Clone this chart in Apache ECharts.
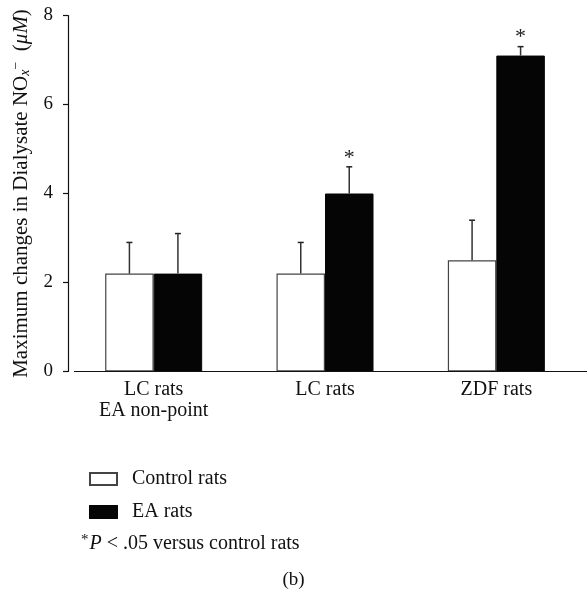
<!DOCTYPE html>
<html><head><meta charset="utf-8">
<script src="https://cdn.jsdelivr.net/npm/echarts@6/dist/echarts.min.js"></script>
<style>html,body{margin:0;padding:0;background:#fff}#c{width:587px;height:595px}</style>
</head><body><div id="c"></div>
<script>
const categories = ['LC rats\nEA non-point', 'LC rats', 'ZDF rats'];
const controlValues = [2.2, 2.2, 2.5];
const controlErrors = [0.7, 0.7, 0.9];
const eaValues = [2.2, 4.0, 7.1];
const eaErrors = [0.9, 0.6, 0.2];
const eaSignificant = [false, true, true];
const seriesNames = ['Control rats', 'EA rats'];
const yMin = 0, yMax = 8, yInterval = 2;

const FONT = '"Liberation Serif", "DejaVu Serif", serif';
const BAR_W = 48.5;
const chart = echarts.init(document.getElementById('c'), null, {renderer: 'canvas'});

function errorSeries(values, errors, side, sig) {
  const data = values.map((v, i) => [i, v, errors[i], sig ? (sig[i] ? 1 : 0) : 0]);
  return {
    type: 'custom',
    silent: true,
    z: 5,
    data: data,
    encode: {x: 0, y: 1},
    renderItem: function (params, api) {
      const i = api.value(0), v = api.value(1), e = api.value(2), s = api.value(3);
      const base = api.coord([i, v]);
      const top = api.coord([i, v + e]);
      const x = base[0] + side * BAR_W / 2;
      const children = [
        {type: 'line', shape: {x1: x, y1: base[1], x2: x, y2: top[1]}, style: {stroke: '#333', lineWidth: 1.5}},
        {type: 'line', shape: {x1: x - 3, y1: top[1], x2: x + 3, y2: top[1]}, style: {stroke: '#222', lineWidth: 1.5}}
      ];
      if (s) {
        children.push({type: 'text', x: x, y: top[1] + 2, style: {text: '*', font: '22px ' + FONT, fill: '#222', align: 'center', verticalAlign: 'bottom'}});
      }
      return {type: 'group', children: children};
    }
  };
}

const option = {
  animation: false,
  backgroundColor: '#fff',
  grid: {left: 68, right: 5, top: 15.5, bottom: 223.5, containLabel: false},
  xAxis: {
    type: 'category',
    data: categories,
    axisLine: {show: false},
    axisTick: {show: false},
    axisLabel: {fontFamily: FONT, fontSize: 20, color: '#111', margin: 8, lineHeight: 21}
  },
  yAxis: {
    type: 'value', min: yMin, max: yMax, interval: yInterval,
    axisLine: {show: true, lineStyle: {color: '#111', width: 1.2}},
    axisTick: {show: true, length: 5, lineStyle: {color: '#111', width: 1.2}},
    splitLine: {show: false},
    axisLabel: {fontFamily: FONT, fontSize: 19, color: '#111', margin: 15},
    name: '{n|Maximum changes in Dialysate NO}{sub|x}{sup|−}{n|  (}{i|μM}{n|)}',
    nameLocation: 'middle',
    nameRotate: 90,
    nameGap: 31,
    nameTextStyle: {
      fontFamily: FONT, fontSize: 21, color: '#111',
      rich: {
        n: {fontFamily: FONT, fontSize: 21, color: '#111'},
        i: {fontFamily: FONT, fontSize: 21, color: '#111', fontStyle: 'italic'},
        sub: {fontFamily: FONT, fontSize: 14, color: '#111', fontStyle: 'italic', padding: [8, 0, 0, 0]},
        sup: {fontFamily: FONT, fontSize: 14, color: '#111', padding: [0, 0, 10, 0]}
      }
    }
  },
  legend: {
    data: seriesNames,
    orient: 'vertical',
    left: 84, top: 464,
    itemWidth: 27, itemHeight: 12, itemGap: 13,
    icon: 'rect',
    textStyle: {fontFamily: FONT, fontSize: 20, lineHeight: 20, color: '#111', padding: [0, 0, 0, 10]}
  },
  graphic: [],
  series: [
    {name: seriesNames[0], type: 'bar', data: controlValues, barWidth: BAR_W, barGap: '0%',
     itemStyle: {color: '#fff', borderColor: '#444', borderWidth: 1.2}},
    {name: seriesNames[1], type: 'bar', data: eaValues, barWidth: BAR_W, barGap: '0%',
     itemStyle: {color: '#050505', borderColor: '#050505', borderWidth: 1}},
    errorSeries(controlValues, controlErrors, -1, null),
    errorSeries(eaValues, eaErrors, 1, eaSignificant)
  ]
};
chart.setOption(option);

const y0 = chart.convertToPixel({yAxisIndex: 0}, 0);
chart.setOption({
  graphic: [
    {type: 'line', shape: {x1: 74, y1: y0, x2: 587, y2: y0}, style: {stroke: '#111', lineWidth: 1.2}, z: 10},
    {type: 'text', left: 81, top: 533, style: {
      text: '{a|*}{p|P}{n| < .05 versus control rats}',
      rich: {
        a: {font: '15px ' + FONT, fill: '#111', padding: [0, 1, 7, 0]},
        p: {font: 'italic 20px ' + FONT, fill: '#111', lineHeight: 22},
        n: {font: '20px ' + FONT, fill: '#111', lineHeight: 22}
      }
    }},
    {type: 'text', left: 'center', top: 571, style: {text: '(b)', font: '19px ' + FONT, fill: '#111'}}
  ]
});
</script></body></html>
